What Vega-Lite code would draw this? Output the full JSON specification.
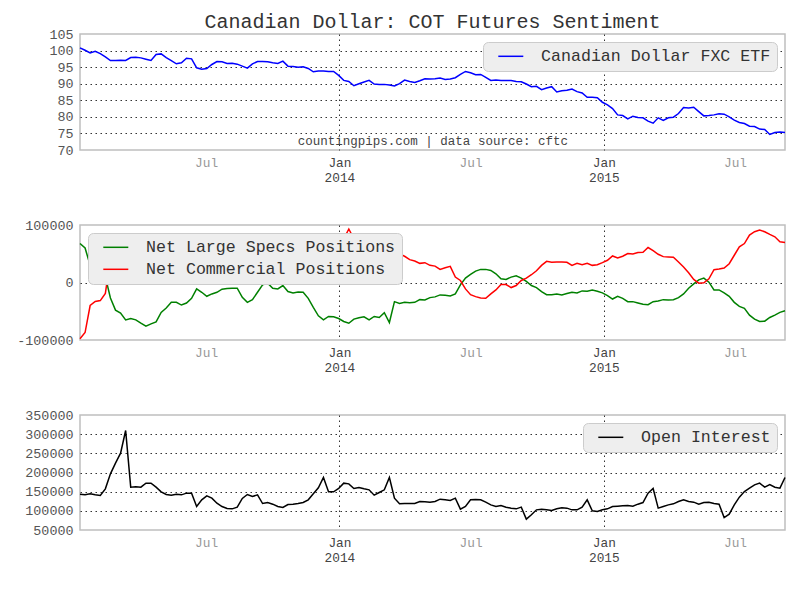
{
"$schema": "https://vega.github.io/schema/vega-lite/v6.json",
"autosize": {"type": "none"},
"padding": {"left": 80, "top": 34, "right": 720, "bottom": 566},
"background": "white",
"spacing": 75,
"bounds": "flush",
"resolve": {"scale": {"color": "independent"}, "legend": {"color": "independent"}},
"config": {
  "font": "Liberation Mono",
  "view": {"stroke": "#BFBFBF", "strokeWidth": 1.5},
  "axis": {"domain": false, "ticks": false, "labelFont": "Liberation Mono", "gridDash": [1.5, 3.5], "gridColor": "#333333", "gridWidth": 1, "labelOverlap": false, "labelFlush": false},
  "axisY": {"labelFontSize": 13.4, "labelColor": "#555555", "labelPadding": 7},
  "axisX": {"labelFontSize": 12.8, "labelPadding": 6, "labelLineHeight": 15},
  "legend": {"offset": 8, "fillColor": "#EEEEEE", "strokeColor": "#CCCCCC", "cornerRadius": 5, "padding": 6, "symbolType": "M-2,0H2", "symbolSize": 156.25, "symbolStrokeWidth": 1.5, "symbolOffset": 13.5, "labelFont": "Liberation Mono", "labelFontSize": 16.6, "labelColor": "#333333", "labelOffset": 22, "rowPadding": 5, "labelLimit": 500},
  "line": {"strokeWidth": 1.5}
},
"datasets": {"cot": [
{"d":"2013-01-08","fxc":100.8,"spec":67800,"comm":-97700,"oi":143500},
{"d":"2013-01-15","fxc":100.1,"spec":60000,"comm":-87000,"oi":141700},
{"d":"2013-01-22","fxc":99.3,"spec":30000,"comm":-40000,"oi":144300},
{"d":"2013-01-29","fxc":99.8,"spec":25000,"comm":-33000,"oi":141700},
{"d":"2013-02-05","fxc":99.1,"spec":20000,"comm":-31500,"oi":140000},
{"d":"2013-02-12","fxc":98.1,"spec":10000,"comm":-19000,"oi":157400},
{"d":"2013-02-19","fxc":97.0,"spec":-27000,"comm":42000,"oi":196500},
{"d":"2013-02-26","fxc":97.0,"spec":-48000,"comm":60000,"oi":224300},
{"d":"2013-03-05","fxc":97.1,"spec":-53000,"comm":64000,"oi":250400},
{"d":"2013-03-12","fxc":97.0,"spec":-65000,"comm":74000,"oi":309600},
{"d":"2013-03-19","fxc":97.9,"spec":-62600,"comm":72000,"oi":161700},
{"d":"2013-03-26","fxc":98.0,"spec":-65000,"comm":74000,"oi":162600},
{"d":"2013-04-02","fxc":97.8,"spec":-70800,"comm":76000,"oi":161700},
{"d":"2013-04-09","fxc":97.4,"spec":-76000,"comm":77000,"oi":172200},
{"d":"2013-04-16","fxc":97.0,"spec":-72000,"comm":76000,"oi":172200},
{"d":"2013-04-23","fxc":98.8,"spec":-68400,"comm":75000,"oi":161700},
{"d":"2013-04-30","fxc":99.0,"spec":-52000,"comm":65000,"oi":149600},
{"d":"2013-05-07","fxc":97.9,"spec":-44400,"comm":59400,"oi":142600},
{"d":"2013-05-14","fxc":97.0,"spec":-34500,"comm":49500,"oi":140900},
{"d":"2013-05-21","fxc":96.0,"spec":-34500,"comm":49500,"oi":143500},
{"d":"2013-05-28","fxc":96.3,"spec":-39200,"comm":54200,"oi":141700},
{"d":"2013-06-04","fxc":97.7,"spec":-35700,"comm":50700,"oi":146100},
{"d":"2013-06-11","fxc":97.5,"spec":-27500,"comm":42500,"oi":146100},
{"d":"2013-06-18","fxc":94.8,"spec":-11100,"comm":26100,"oi":111300},
{"d":"2013-06-25","fxc":94.4,"spec":-17000,"comm":32000,"oi":128700},
{"d":"2013-07-02","fxc":94.6,"spec":-24000,"comm":39000,"oi":139100},
{"d":"2013-07-09","fxc":95.8,"spec":-19900,"comm":34900,"oi":133000},
{"d":"2013-07-16","fxc":96.7,"spec":-17000,"comm":32000,"oi":120000},
{"d":"2013-07-23","fxc":96.6,"spec":-11700,"comm":26700,"oi":111300},
{"d":"2013-07-30","fxc":96.1,"spec":-10500,"comm":25500,"oi":106100},
{"d":"2013-08-06","fxc":96.2,"spec":-9900,"comm":24900,"oi":105200},
{"d":"2013-08-13","fxc":95.9,"spec":-9900,"comm":24900,"oi":109600},
{"d":"2013-08-20","fxc":95.3,"spec":-25700,"comm":40700,"oi":132200},
{"d":"2013-08-27","fxc":94.7,"spec":-34500,"comm":49500,"oi":142600},
{"d":"2013-09-03","fxc":96.0,"spec":-29800,"comm":44800,"oi":137400},
{"d":"2013-09-10","fxc":96.7,"spec":-17000,"comm":32000,"oi":141700},
{"d":"2013-09-17","fxc":96.7,"spec":-4100,"comm":19100,"oi":119100},
{"d":"2013-09-24","fxc":96.6,"spec":-1200,"comm":16200,"oi":121700},
{"d":"2013-10-01","fxc":96.3,"spec":-9900,"comm":24900,"oi":117400},
{"d":"2013-10-08","fxc":96.1,"spec":-11100,"comm":26100,"oi":111300},
{"d":"2013-10-15","fxc":96.8,"spec":-5300,"comm":20300,"oi":108700},
{"d":"2013-10-22","fxc":95.3,"spec":-15800,"comm":30800,"oi":116500},
{"d":"2013-10-29","fxc":95.2,"spec":-18100,"comm":33100,"oi":117400},
{"d":"2013-11-05","fxc":95.0,"spec":-16400,"comm":31400,"oi":119100},
{"d":"2013-11-12","fxc":95.1,"spec":-17000,"comm":32000,"oi":121700},
{"d":"2013-11-19","fxc":94.6,"spec":-27500,"comm":42500,"oi":128700},
{"d":"2013-11-26","fxc":93.6,"spec":-43300,"comm":58300,"oi":144300},
{"d":"2013-12-03","fxc":93.8,"spec":-57900,"comm":70000,"oi":160000},
{"d":"2013-12-10","fxc":93.8,"spec":-64900,"comm":74000,"oi":187000},
{"d":"2013-12-17","fxc":93.7,"spec":-59100,"comm":71000,"oi":149600},
{"d":"2013-12-24","fxc":93.7,"spec":-59600,"comm":71500,"oi":149600},
{"d":"2013-12-31","fxc":92.5,"spec":-62600,"comm":73000,"oi":158300},
{"d":"2014-01-07","fxc":91.0,"spec":-67800,"comm":76000,"oi":172200},
{"d":"2014-01-14","fxc":90.7,"spec":-70800,"comm":93000,"oi":170400},
{"d":"2014-01-21","fxc":89.4,"spec":-63700,"comm":76000,"oi":158300},
{"d":"2014-01-28","fxc":90.0,"spec":-61400,"comm":73000,"oi":160900},
{"d":"2014-02-04","fxc":90.5,"spec":-59600,"comm":72000,"oi":157400},
{"d":"2014-02-11","fxc":91.0,"spec":-64900,"comm":75000,"oi":154800},
{"d":"2014-02-18","fxc":89.9,"spec":-59000,"comm":72000,"oi":140900},
{"d":"2014-02-25","fxc":89.8,"spec":-60800,"comm":73000,"oi":147800},
{"d":"2014-03-04","fxc":89.8,"spec":-52600,"comm":66000,"oi":154800},
{"d":"2014-03-11","fxc":89.6,"spec":-69600,"comm":75000,"oi":187000},
{"d":"2014-03-18","fxc":89.3,"spec":-33300,"comm":53000,"oi":133000},
{"d":"2014-03-25","fxc":90.0,"spec":-36300,"comm":49700,"oi":118300},
{"d":"2014-04-01","fxc":91.1,"spec":-34500,"comm":45600,"oi":119100},
{"d":"2014-04-08","fxc":90.7,"spec":-35100,"comm":39800,"oi":119100},
{"d":"2014-04-15","fxc":90.4,"spec":-34500,"comm":37400,"oi":119100},
{"d":"2014-04-22","fxc":90.9,"spec":-29800,"comm":33300,"oi":124300},
{"d":"2014-04-29","fxc":91.5,"spec":-30400,"comm":34500,"oi":123500},
{"d":"2014-05-06","fxc":91.4,"spec":-26300,"comm":29800,"oi":122600},
{"d":"2014-05-13","fxc":91.5,"spec":-25000,"comm":28500,"oi":124500},
{"d":"2014-05-20","fxc":91.7,"spec":-21600,"comm":22800,"oi":130400},
{"d":"2014-05-27","fxc":91.3,"spec":-22200,"comm":25700,"oi":128700},
{"d":"2014-06-03","fxc":91.4,"spec":-23400,"comm":28100,"oi":127000},
{"d":"2014-06-10","fxc":91.8,"spec":-19900,"comm":9400,"oi":133000},
{"d":"2014-06-17","fxc":92.8,"spec":-4100,"comm":3500,"oi":104300},
{"d":"2014-06-24","fxc":93.7,"spec":7600,"comm":-11100,"oi":111300},
{"d":"2014-07-01","fxc":93.3,"spec":14000,"comm":-21100,"oi":128700},
{"d":"2014-07-08","fxc":92.7,"spec":19900,"comm":-24600,"oi":129600},
{"d":"2014-07-15","fxc":92.8,"spec":22800,"comm":-26900,"oi":128700},
{"d":"2014-07-22","fxc":91.9,"spec":22800,"comm":-27500,"oi":122600},
{"d":"2014-07-29","fxc":91.0,"spec":21000,"comm":-19900,"oi":115600},
{"d":"2014-08-05","fxc":91.1,"spec":15200,"comm":-12900,"oi":111300},
{"d":"2014-08-12","fxc":91.0,"spec":6400,"comm":-3500,"oi":113900},
{"d":"2014-08-19","fxc":91.0,"spec":5300,"comm":-3500,"oi":109600},
{"d":"2014-08-26","fxc":91.0,"spec":9400,"comm":-8800,"oi":107000},
{"d":"2014-09-02","fxc":90.7,"spec":11700,"comm":-5300,"oi":105200},
{"d":"2014-09-09","fxc":90.6,"spec":7600,"comm":3500,"oi":109600},
{"d":"2014-09-16","fxc":89.9,"spec":1800,"comm":7600,"oi":78300},
{"d":"2014-09-23","fxc":89.1,"spec":-5300,"comm":13500,"oi":89600},
{"d":"2014-09-30","fxc":89.2,"spec":-8800,"comm":20500,"oi":102600},
{"d":"2014-10-07","fxc":88.2,"spec":-15800,"comm":29800,"oi":104300},
{"d":"2014-10-14","fxc":88.7,"spec":-21100,"comm":36800,"oi":102600},
{"d":"2014-10-21","fxc":89.1,"spec":-21100,"comm":35100,"oi":100900},
{"d":"2014-10-28","fxc":87.5,"spec":-19900,"comm":35700,"oi":105200},
{"d":"2014-11-04","fxc":87.9,"spec":-21600,"comm":35700,"oi":107800},
{"d":"2014-11-11","fxc":88.0,"spec":-19300,"comm":35100,"oi":107000},
{"d":"2014-11-18","fxc":88.4,"spec":-17000,"comm":29800,"oi":102600},
{"d":"2014-11-25","fxc":87.6,"spec":-18100,"comm":33300,"oi":102600},
{"d":"2014-12-02","fxc":87.2,"spec":-14600,"comm":31000,"oi":109600},
{"d":"2014-12-09","fxc":85.9,"spec":-15200,"comm":33300,"oi":128700},
{"d":"2014-12-16","fxc":85.9,"spec":-12900,"comm":29800,"oi":100000},
{"d":"2014-12-23","fxc":85.8,"spec":-15200,"comm":31000,"oi":98300},
{"d":"2014-12-30","fxc":84.4,"spec":-18100,"comm":34500,"oi":102600},
{"d":"2015-01-06","fxc":83.6,"spec":-22800,"comm":38600,"oi":105200},
{"d":"2015-01-13","fxc":82.5,"spec":-28700,"comm":46200,"oi":111300},
{"d":"2015-01-20","fxc":80.6,"spec":-24000,"comm":42700,"oi":112200},
{"d":"2015-01-27","fxc":80.4,"spec":-27500,"comm":45600,"oi":113000},
{"d":"2015-02-03","fxc":79.4,"spec":-33300,"comm":50300,"oi":113900},
{"d":"2015-02-10","fxc":80.2,"spec":-33300,"comm":49700,"oi":112200},
{"d":"2015-02-17","fxc":79.8,"spec":-35700,"comm":52000,"oi":117400},
{"d":"2015-02-24","fxc":79.7,"spec":-38000,"comm":52600,"oi":121700},
{"d":"2015-03-03","fxc":78.7,"spec":-38600,"comm":60800,"oi":146100},
{"d":"2015-03-10","fxc":78.1,"spec":-33300,"comm":55600,"oi":158300},
{"d":"2015-03-17","fxc":79.7,"spec":-32200,"comm":49100,"oi":107000},
{"d":"2015-03-24","fxc":78.9,"spec":-29800,"comm":45000,"oi":111300},
{"d":"2015-03-31","fxc":79.7,"spec":-30400,"comm":44400,"oi":115600},
{"d":"2015-04-07","fxc":79.9,"spec":-29800,"comm":43900,"oi":118300},
{"d":"2015-04-14","fxc":81.0,"spec":-26300,"comm":35700,"oi":124300},
{"d":"2015-04-21","fxc":82.8,"spec":-19900,"comm":26900,"oi":128700},
{"d":"2015-04-28","fxc":82.7,"spec":-9900,"comm":17000,"oi":124300},
{"d":"2015-05-05","fxc":82.9,"spec":-2300,"comm":5300,"oi":122600},
{"d":"2015-05-12","fxc":81.6,"spec":4700,"comm":-1200,"oi":117400},
{"d":"2015-05-19","fxc":80.3,"spec":7600,"comm":-600,"oi":121700},
{"d":"2015-05-26","fxc":80.4,"spec":600,"comm":6400,"oi":122600},
{"d":"2015-06-02","fxc":80.6,"spec":-12900,"comm":22200,"oi":119100},
{"d":"2015-06-09","fxc":80.9,"spec":-12900,"comm":23400,"oi":117400},
{"d":"2015-06-16","fxc":80.8,"spec":-18100,"comm":25100,"oi":82600},
{"d":"2015-06-23","fxc":80.0,"spec":-24000,"comm":32700,"oi":91300},
{"d":"2015-06-30","fxc":79.0,"spec":-34500,"comm":47400,"oi":115600},
{"d":"2015-07-07","fxc":78.3,"spec":-41500,"comm":62000,"oi":135600},
{"d":"2015-07-14","fxc":78.0,"spec":-45000,"comm":67800,"oi":150400},
{"d":"2015-07-21","fxc":77.2,"spec":-56700,"comm":82500,"oi":159100},
{"d":"2015-07-28","fxc":77.1,"spec":-63700,"comm":88300,"oi":167800},
{"d":"2015-08-04","fxc":76.3,"spec":-67800,"comm":91200,"oi":172200},
{"d":"2015-08-11","fxc":76.2,"spec":-67300,"comm":88300,"oi":161700},
{"d":"2015-08-18","fxc":74.7,"spec":-60800,"comm":83600,"oi":168700},
{"d":"2015-08-25","fxc":75.3,"spec":-56700,"comm":79500,"oi":161700},
{"d":"2015-09-01","fxc":75.4,"spec":-52000,"comm":70800,"oi":159100},
{"d":"2015-09-08","fxc":75.3,"spec":-49100,"comm":69600,"oi":187000}
]},
"vconcat": [
{
  "width": 705, "height": 116,
  "title": {"text": "Canadian Dollar: COT Futures Sentiment", "fontSize": 20, "font": "Liberation Mono", "fontWeight": "normal", "color": "#333333", "anchor": "middle", "offset": -5},
  "encoding": {
    "x": {"field": "d", "type": "temporal", "title": null,
      "scale": {"domain": [{"year": 2013, "month": 1, "date": 8}, {"year": 2015, "month": 9, "date": 8}], "nice": false},
      "axis": {"values": [{"year": 2013, "month": 7, "date": 1}, {"year": 2014, "month": 1, "date": 1}, {"year": 2014, "month": 7, "date": 1}, {"year": 2015, "month": 1, "date": 1}, {"year": 2015, "month": 7, "date": 1}],
        "labelExpr": "month(datum.value) == 0 ? ['Jan', '' + year(datum.value)] : 'Jul'",
        "labelColor": {"condition": {"test": "month(datum.value) == 0", "value": "#444444"}, "value": "#999999"},
        "gridOpacity": {"condition": {"test": "month(datum.value) == 0", "value": 1}, "value": 0}}},
    "y": {"field": "fxc", "type": "quantitative", "title": null,
      "scale": {"domain": [70, 105], "nice": false, "zero": false},
      "axis": {"values": [70, 75, 80, 85, 90, 95, 100, 105], "labelExpr": "'' + datum.value",
        "gridOpacity": {"condition": {"test": "datum.value > 70 && datum.value < 105", "value": 1}, "value": 0}}}
  },
  "layer": [
    {
      "data": {"name": "cot"},
      "mark": {"type": "line", "strokeWidth": 1.5},
      "encoding": {
        "color": {"datum": "Canadian Dollar FXC ETF", "type": "nominal",
          "scale": {"domain": ["Canadian Dollar FXC ETF"], "range": ["#0000FF"]},
          "legend": {"title": null, "orient": "top-right"}}
      }
    },
    {
      "data": {"values": [{"d": "2014-05-10", "fxc": 71.5, "t": "countingpips.com | data source: cftc"}]},
      "mark": {"type": "text", "align": "center", "baseline": "alphabetic", "font": "Liberation Mono", "fontSize": 12.5, "color": "#444444"},
      "encoding": {
        "text": {"field": "t"}
      }
    }
  ]
},
{
  "width": 705, "height": 115,
  "data": {"name": "cot"},
  "encoding": {
    "x": {"field": "d", "type": "temporal", "title": null,
      "scale": {"domain": [{"year": 2013, "month": 1, "date": 8}, {"year": 2015, "month": 9, "date": 8}], "nice": false},
      "axis": {"values": [{"year": 2013, "month": 7, "date": 1}, {"year": 2014, "month": 1, "date": 1}, {"year": 2014, "month": 7, "date": 1}, {"year": 2015, "month": 1, "date": 1}, {"year": 2015, "month": 7, "date": 1}],
        "labelExpr": "month(datum.value) == 0 ? ['Jan', '' + year(datum.value)] : 'Jul'",
        "labelColor": {"condition": {"test": "month(datum.value) == 0", "value": "#444444"}, "value": "#999999"},
        "gridOpacity": {"condition": {"test": "month(datum.value) == 0", "value": 1}, "value": 0}}}
  },
  "layer": [
    {
      "mark": {"type": "line", "strokeWidth": 1.5},
      "encoding": {
        "y": {"field": "spec", "type": "quantitative", "title": null,
          "scale": {"domain": [-100000, 100000], "nice": false},
          "axis": {"values": [-100000, -50000, 0, 50000, 100000], "labelExpr": "'' + datum.value",
            "gridOpacity": {"condition": {"test": "datum.value > -100000 && datum.value < 100000", "value": 1}, "value": 0}}},
        "color": {"datum": "Net Large Specs Positions", "type": "nominal",
          "scale": {"domain": ["Net Large Specs Positions", "Net Commercial Positions"], "range": ["#008000", "#FF0000"]},
          "legend": {"title": null, "orient": "top-left"}}
      }
    },
    {
      "mark": {"type": "line", "strokeWidth": 1.5},
      "encoding": {
        "y": {"field": "comm", "type": "quantitative"},
        "color": {"datum": "Net Commercial Positions", "type": "nominal"}
      }
    }
  ]
},
{
  "width": 705, "height": 115,
  "data": {"name": "cot"},
  "mark": {"type": "line", "strokeWidth": 1.5},
  "encoding": {
    "x": {"field": "d", "type": "temporal", "title": null,
      "scale": {"domain": [{"year": 2013, "month": 1, "date": 8}, {"year": 2015, "month": 9, "date": 8}], "nice": false},
      "axis": {"values": [{"year": 2013, "month": 7, "date": 1}, {"year": 2014, "month": 1, "date": 1}, {"year": 2014, "month": 7, "date": 1}, {"year": 2015, "month": 1, "date": 1}, {"year": 2015, "month": 7, "date": 1}],
        "labelExpr": "month(datum.value) == 0 ? ['Jan', '' + year(datum.value)] : 'Jul'",
        "labelColor": {"condition": {"test": "month(datum.value) == 0", "value": "#444444"}, "value": "#999999"},
        "gridOpacity": {"condition": {"test": "month(datum.value) == 0", "value": 1}, "value": 0}}},
    "y": {"field": "oi", "type": "quantitative", "title": null,
      "scale": {"domain": [50000, 350000], "nice": false, "zero": false},
      "axis": {"values": [50000, 100000, 150000, 200000, 250000, 300000, 350000], "labelExpr": "'' + datum.value",
        "gridOpacity": {"condition": {"test": "datum.value > 50000 && datum.value < 350000", "value": 1}, "value": 0}}},
    "color": {"datum": "Open Interest", "type": "nominal",
      "scale": {"domain": ["Open Interest"], "range": ["#000000"]},
      "legend": {"title": null, "orient": "top-right"}}
  }
}
]
}
